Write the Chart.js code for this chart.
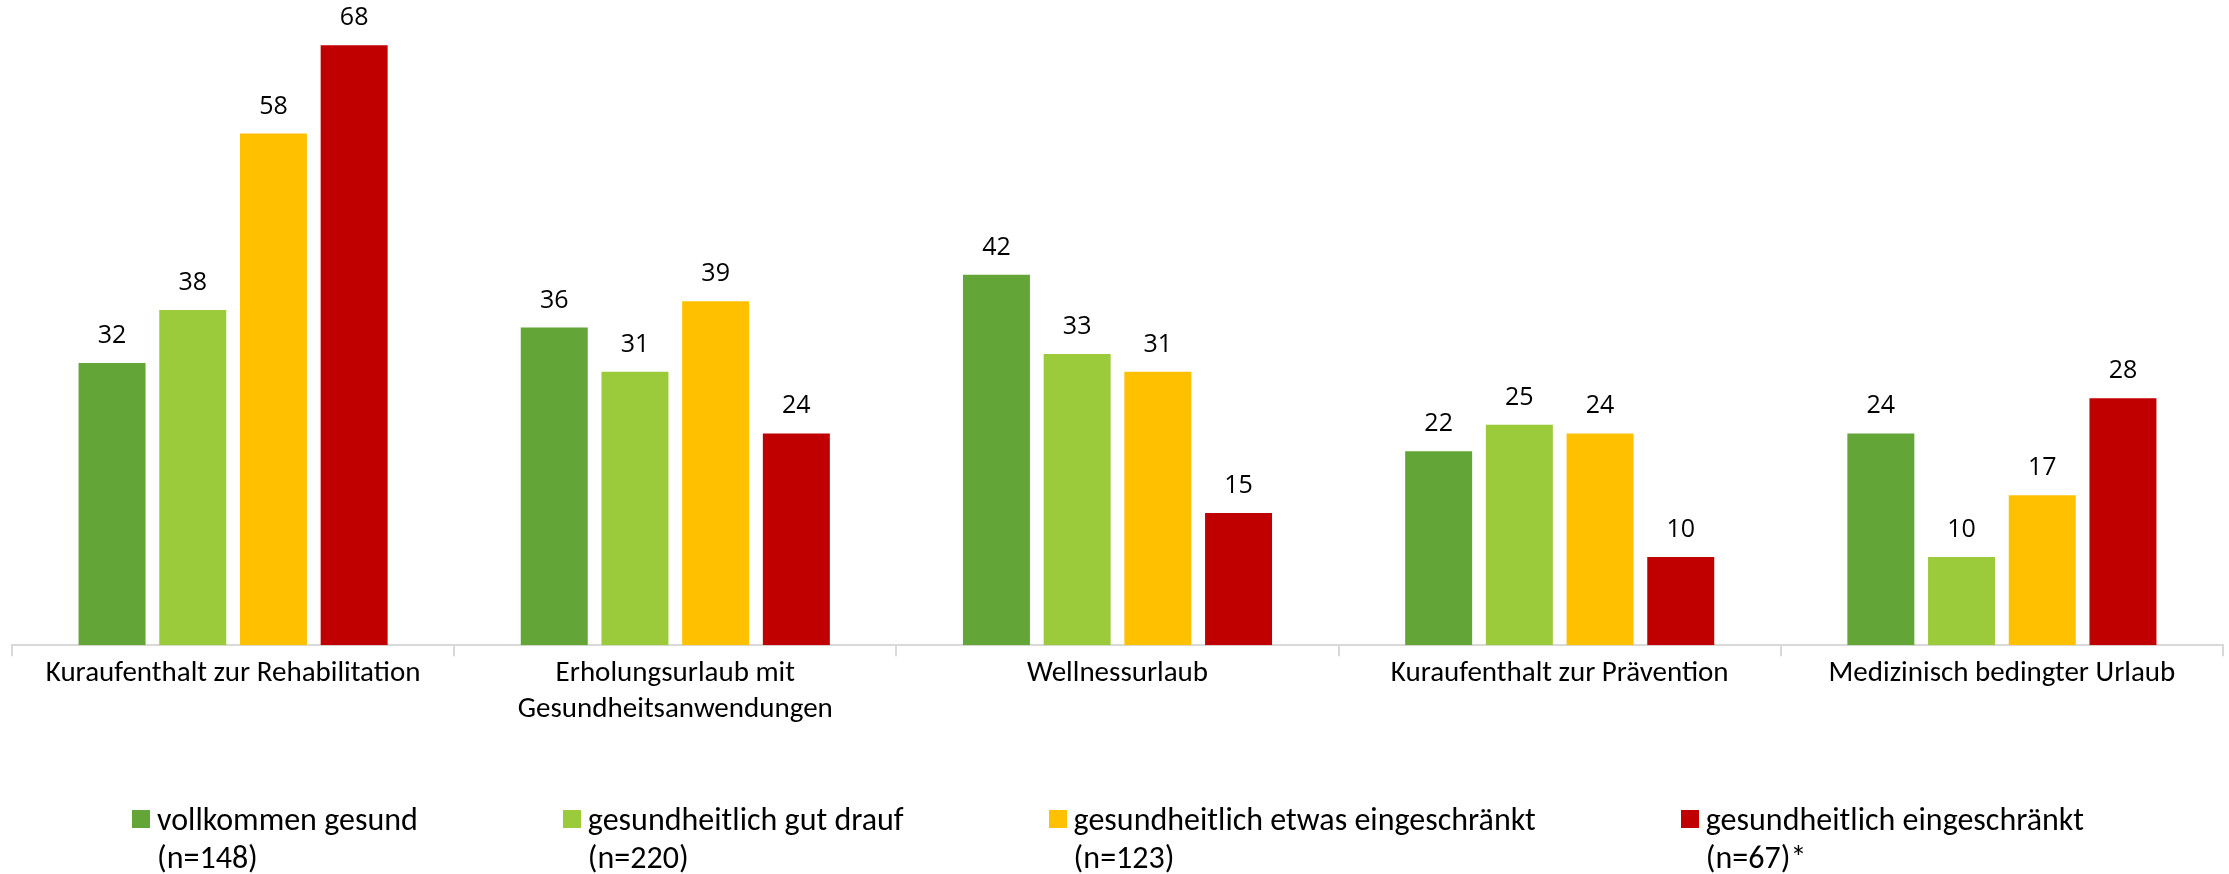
<!DOCTYPE html>
<html lang="de">
<head>
<meta charset="utf-8">
<script src="https://cdn.jsdelivr.net/npm/chart.js@4.4.1/dist/chart.umd.min.js"></script>
<style>
  body { margin: 0; background: #fff; }
  #wrap { position: relative; width: 2229px; height: 874px; }
  #legend {
    position: absolute; left: 132px; top: 801px;
    display: flex; gap: 145px;
    font-family: 'Carlito', 'Liberation Sans Narrow', 'DejaVu Sans Condensed', sans-serif;
    font-size: 32px; line-height: 38px; color: #000;
  }
  .item { display: flex; align-items: flex-start; }
  .box { width: 18px; height: 18px; margin-top: 9px; margin-right: 7px; flex: none; }
</style>
</head>
<body>
<div id="wrap">
  <canvas id="chart" width="2229" height="874"></canvas>
  <div id="legend"></div>
</div>
<script>
const categories = [
  'Kuraufenthalt zur Rehabilitation',
  ['Erholungsurlaub mit', 'Gesundheitsanwendungen'],
  'Wellnessurlaub',
  'Kuraufenthalt zur Prävention',
  'Medizinisch bedingter Urlaub'
];
const seriesLabels = ['vollkommen gesund', 'gesundheitlich gut drauf', 'gesundheitlich etwas eingeschränkt', 'gesundheitlich eingeschränkt'];
const seriesN = ['(n=148)', '(n=220)', '(n=123)', '(n=67)*'];
const vollkommenGesund = [32, 36, 42, 22, 24];
const gutDrauf = [38, 31, 33, 25, 10];
const etwasEingeschraenkt = [58, 39, 31, 24, 17];
const eingeschraenkt = [68, 24, 15, 10, 28];
const colors = ['#63a537', '#9bcb3b', '#ffc000', '#c00000'];

const seriesValues = [vollkommenGesund, gutDrauf, etwasEingeschraenkt, eingeschraenkt];

// Werte über den Balken
const valueLabels = {
  id: 'valueLabels',
  afterDatasetsDraw(chart) {
    const ctx = chart.ctx;
    ctx.save();
    ctx.font = '25px "Open Sans", sans-serif';
    ctx.fillStyle = '#000';
    ctx.textAlign = 'center';
    ctx.textBaseline = 'alphabetic';
    chart.data.datasets.forEach((ds, i) => {
      chart.getDatasetMeta(i).data.forEach((bar, j) => {
        ctx.fillText(ds.data[j], bar.x, bar.y - 20);
      });
    });
    ctx.restore();
  }
};

new Chart(document.getElementById('chart'), {
  type: 'bar',
  data: {
    labels: categories,
    datasets: seriesValues.map((vals, i) => ({
      label: seriesLabels[i],
      data: vals,
      backgroundColor: colors[i],
      barPercentage: 0.83,
      categoryPercentage: 0.73
    }))
  },
  options: {
    responsive: false,
    animation: false,
    layout: { padding: { left: 12, right: 6, top: 10, bottom: 147 } },
    plugins: { legend: { display: false }, tooltip: { enabled: false } },
    scales: {
      y: { display: false, min: 0, max: 72 },
      x: {
        border: { display: true, color: '#d9d9d9', width: 2 },
        grid: { display: true, drawOnChartArea: false, tickLength: 11, color: '#d9d9d9', lineWidth: 2 },
        ticks: {
          color: '#000',
          padding: 0,
          maxRotation: 0,
          autoSkip: false,
          font: { family: "'Carlito', 'Liberation Sans Narrow', 'DejaVu Sans Condensed', sans-serif", size: 29, lineHeight: 1.22 }
        }
      }
    }
  },
  plugins: [valueLabels]
});

const legend = document.getElementById('legend');
seriesLabels.forEach((name, i) => {
  const item = document.createElement('div');
  item.className = 'item';
  item.innerHTML = '<span class="box" style="background:' + colors[i] + '"></span>' +
    '<span>' + name + '<br>' + seriesN[i] + '</span>';
  legend.appendChild(item);
});
</script>
</body>
</html>
